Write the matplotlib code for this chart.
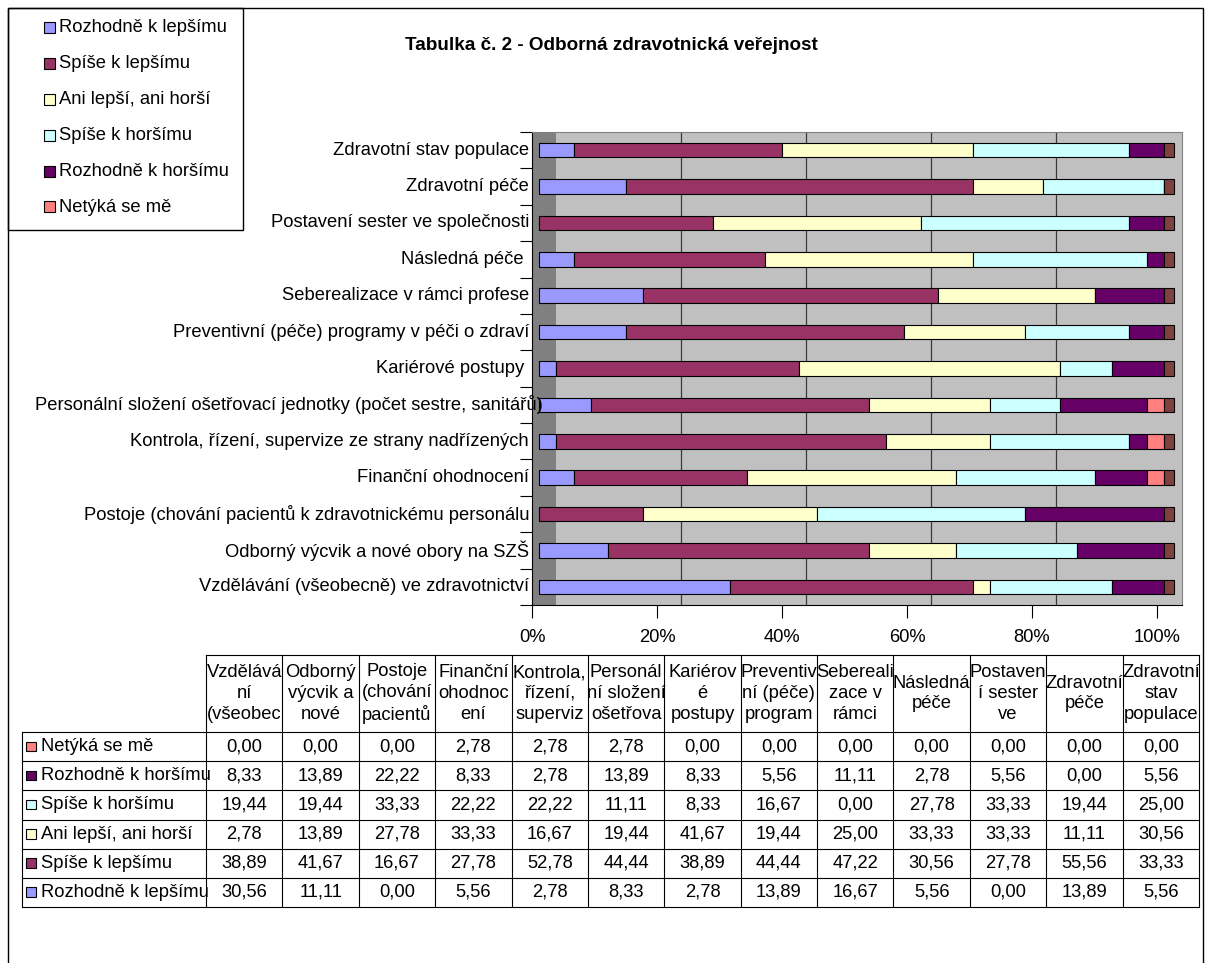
import matplotlib.pyplot as plt
import numpy as np
from matplotlib.patches import Rectangle
from matplotlib.transforms import blended_transform_factory

plt.rcParams['font.family'] = ['Liberation Sans', 'DejaVu Sans']

W, H = 1207, 963
FS = 13.2

title = 'Tabulka č. 2 - Odborná zdravotnická veřejnost'

# categories from the bottom bar up (same order as the table columns)
categories = [
    'Vzdělávání (všeobecně) ve zdravotnictví',
    'Odborný výcvik a nové obory na SZŠ',
    'Postoje (chování pacientů k zdravotnickému personálu',
    'Finanční ohodnocení',
    'Kontrola, řízení, supervize ze strany nadřízených',
    'Personální složení ošetřovací jednotky (počet sestre, sanitářů)',
    'Kariérové postupy ',
    'Preventivní (péče) programy v péči o zdraví',
    'Seberealizace v rámci profese',
    'Následná péče ',
    'Postavení sester ve společnosti',
    'Zdravotní péče',
    'Zdravotní stav populace',
]

table_headers = [
    'Vzdělává\nní\n(všeobec', 'Odborný\nvýcvik a\nnové', 'Postoje\n(chování\npacientů',
    'Finanční\nohodnoc\není', 'Kontrola,\nřízení,\nsuperviz', 'Personál\nní složení\nošetřova',
    'Kariérov\né\npostupy', 'Preventiv\nní (péče)\nprogram', 'Sebereali\nzace v\nrámci',
    'Následná\npéče', 'Postaven\ní sester\nve', 'Zdravotní\npéče', 'Zdravotní\nstav\npopulace',
]

series_names = ['Rozhodně k lepšímu', 'Spíše k lepšímu', 'Ani lepší, ani horší',
                'Spíše k horšímu', 'Rozhodně k horšímu', 'Netýká se mě']
colors = ['#9999FF', '#993366', '#FFFFCC', '#CCFFFF', '#660066', '#FF8080']
side_color = '#804040'

rozhodne_lepe = [30.56, 11.11, 0.00, 5.56, 2.78, 8.33, 2.78, 13.89, 16.67, 5.56, 0.00, 13.89, 5.56]
spise_lepe = [38.89, 41.67, 16.67, 27.78, 52.78, 44.44, 38.89, 44.44, 47.22, 30.56, 27.78, 55.56, 33.33]
ani = [2.78, 13.89, 27.78, 33.33, 16.67, 19.44, 41.67, 19.44, 25.00, 33.33, 33.33, 11.11, 30.56]
spise_hure = [19.44, 19.44, 33.33, 22.22, 22.22, 11.11, 8.33, 16.67, 0.00, 27.78, 33.33, 19.44, 25.00]
rozhodne_hure = [8.33, 13.89, 22.22, 8.33, 2.78, 13.89, 8.33, 5.56, 11.11, 2.78, 5.56, 0.00, 5.56]
netyka = [0.00, 0.00, 0.00, 2.78, 2.78, 2.78, 0.00, 0.00, 0.00, 0.00, 0.00, 0.00, 0.00]
series = [rozhodne_lepe, spise_lepe, ani, spise_hure, rozhodne_hure, netyka]

# pseudo 3D: side wall depth, bar offset from the wall, visible end face
DEPTH = 3.84
BAR_SHIFT = 1.12
CAP = 1.6

fig = plt.figure(figsize=(W / 100, H / 100), dpi=100)
ax = fig.add_axes([532 / W, 1 - 605 / H, 650 / W, 473 / H])
ax.set_facecolor('#C0C0C0')
n = len(categories)
ax.set_xlim(0, 104)
ax.set_ylim(-0.5, n - 0.5)

ax.axvspan(0, DEPTH, color='#808080', zorder=0.5, lw=0)
for g in [20, 40, 60, 80]:
    ax.axvline(g + DEPTH, color='#3a3a3a', lw=0.9, zorder=1)

ypos = np.arange(n)
left = np.full(n, BAR_SHIFT)
for vals, col in zip(series, colors):
    vals = np.array(vals)
    ax.barh(ypos, vals, height=0.4, left=left, color=col, edgecolor='black', lw=0.8, zorder=2)
    left = left + vals
ax.barh(ypos, CAP, height=0.4, left=left, color=side_color, edgecolor='black', lw=0.8, zorder=2)

ax.set_xticks(range(0, 101, 20))
ax.set_xticklabels([f'{v}%' for v in range(0, 101, 20)])
ax.tick_params(axis='x', length=9, width=0.8, pad=8.5, labelsize=FS)
ax.set_yticks([])
ax.set_yticks(np.arange(-0.5, n, 1), minor=True)
ax.tick_params(axis='y', which='minor', length=8.6, width=0.8, direction='out')
for s in ['top', 'right']:
    ax.spines[s].set_color('#808080')
    ax.spines[s].set_linewidth(0.8)
for s in ['left', 'bottom']:
    ax.spines[s].set_color('black')
    ax.spines[s].set_linewidth(0.8)

# overlay in pixel coordinates for frame, legend, labels and the data table
ov = fig.add_axes([0, 0, 1, 1], zorder=5)
ov.set_xlim(0, W)
ov.set_ylim(H, 0)
ov.axis('off')

ov.add_patch(Rectangle((7.5, 8.5), 1195, 970, fill=False, ec='black', lw=1))
ov.add_patch(Rectangle((7.5, 8.5), 235.5, 221.5, fill=False, ec='black', lw=1))

ov.text(611, 46, title, ha='center', va='center', fontsize=13.6, fontweight='bold')

for i, (name, col) in enumerate(zip(series_names, colors)):
    y = 28 + 35.8 * i
    ov.add_patch(Rectangle((43.5, y - 5.5), 11, 11, fc=col, ec='black', lw=0.8))
    ov.text(59, y, name, ha='left', va='center', fontsize=FS)

cat_tr = blended_transform_factory(ov.transData, ax.transData)
for i, cat in enumerate(categories):
    if i == 5:
        ov.text(35, i, cat, ha='left', va='center', fontsize=FS, transform=cat_tr)
    else:
        ov.text(529, i, cat, ha='right', va='center', fontsize=FS, transform=cat_tr)

# data table
tx0, tx1 = 206, 1199
col_w = (tx1 - tx0) / n
head_top, head_bot = 655, 732
row_h = 29.17
rows = list(zip(series_names, colors, series))[::-1]
t_bot = head_bot + row_h * len(rows)

ov.plot([tx0, tx1], [head_top, head_top], color='black', lw=0.8)
for k in range(len(rows) + 1):
    y = head_bot + k * row_h
    ov.plot([22, tx1], [y, y], color='black', lw=0.8)
ov.plot([22, 22], [head_bot, t_bot], color='black', lw=0.8)
for j in range(n + 1):
    x = tx0 + j * col_w
    ov.plot([x, x], [head_top, t_bot], color='black', lw=0.8)

for j, hdr in enumerate(table_headers):
    ov.text(tx0 + (j + 0.5) * col_w, (head_top + head_bot) / 2, hdr, ha='center',
            va='center', fontsize=FS, linespacing=1.28, multialignment='center')

for k, (name, col, vals) in enumerate(rows):
    yc = head_bot + (k + 0.5) * row_h
    ov.add_patch(Rectangle((26, yc - 5), 9.5, 9.5, fc=col, ec='black', lw=0.8))
    ov.text(41, yc, name, ha='left', va='center', fontsize=FS)
    for j, v in enumerate(vals):
        ov.text(tx0 + (j + 0.5) * col_w, yc, f'{v:.2f}'.replace('.', ','),
                ha='center', va='center', fontsize=FS)

fig.savefig('out.png', dpi=100, facecolor='white')
